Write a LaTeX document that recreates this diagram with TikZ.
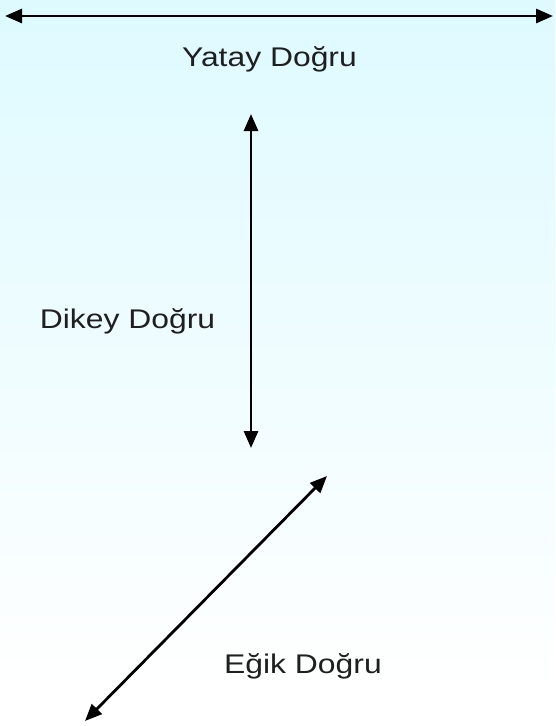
\documentclass[tikz,border=0pt]{standalone}
\usepackage{fontspec}
\setmainfont[FakeStretch=1.18]{Liberation Sans}
\usetikzlibrary{arrows.meta}
\definecolor{topcyan}{RGB}{222,250,255}
\tikzset{
  dline/.style={line width=2.8pt, black, {Triangle[length=17pt,width=14pt]}-{Triangle[length=17pt,width=14pt]}},
  lbl/.style={font=\fontsize{27pt}{31pt}\selectfont, text=black!88, inner sep=0pt, anchor=base}
}
\begin{document}
\begin{tikzpicture}[x=1pt,y=-1pt]
\useasboundingbox (0,0) rectangle (555,726);
\shade[top color=topcyan, bottom color=white, shading angle=0] (0,0) rectangle (555,690);
\fill[white] (0,690) rectangle (555,726);
\coordinate (hA) at (5,16);
\coordinate (hB) at (553,16);
\coordinate (vA) at (251,114);
\coordinate (vB) at (251,448);
\coordinate (dA) at (327,476);
\coordinate (dB) at (85,721);
\draw[dline] (hA) -- (hB);
\draw[dline] (vA) -- (vB);
\draw[dline] (dA) -- (dB);
\node[lbl] (yatay) at (269.5,66.5) {Yatay Doğru};
\node[lbl] (dikey) at (127.5,328.5) {Dikey Doğru};
\node[lbl] (egik) at (303,673.5) {Eğik Doğru};
\end{tikzpicture}
\end{document}
